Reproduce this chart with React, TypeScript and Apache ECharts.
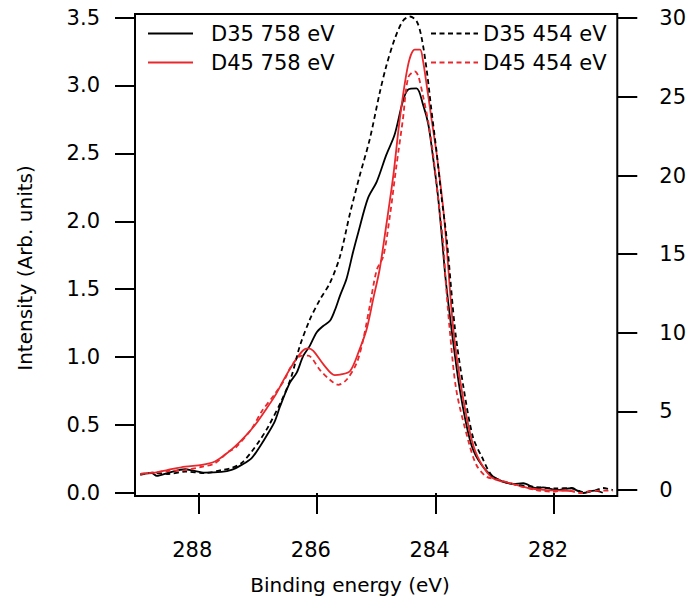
import React, { useEffect, useRef } from "react";
import * as echarts from "echarts";

// Binding energy (eV), intensity pairs
const D35_758: [number, number][] = [
  [288.98, 0.141], [288.785, 0.146], [288.7, 0.126], [288.51, 0.148], [288.22, 0.175],
  [288.09, 0.165], [287.89, 0.15], [287.61, 0.155], [287.44, 0.17], [287.27, 0.207],
  [287.1, 0.257], [286.96, 0.343], [286.82, 0.442], [286.71, 0.528], [286.62, 0.639],
  [286.455, 0.812], [286.34, 0.886], [286.23, 1.009], [286.12, 1.083], [286.005, 1.182],
  [285.89, 1.231], [285.78, 1.268], [285.7, 1.342], [285.61, 1.453], [285.5, 1.577],
  [285.39, 1.774], [285.3, 1.922], [285.14, 2.169], [284.99, 2.292], [284.83, 2.489],
  [284.69, 2.637], [284.55, 2.884], [284.46, 2.97], [284.32, 2.978], [284.21, 2.859],
  [284.12, 2.711], [284.04, 2.465], [283.96, 2.193], [283.89, 1.873], [283.83, 1.577],
  [283.73, 1.207], [283.59, 0.762], [283.42, 0.392], [283.28, 0.244], [283.03, 0.121],
  [282.69, 0.067], [282.52, 0.072], [282.3, 0.035], [282.19, 0.042], [281.96, 0.022],
  [281.71, 0.035], [281.51, 0.0], [281.32, 0.017], [281.18, 0.002],
];

const D45_758: [number, number][] = [
  [288.98, 0.141], [288.73, 0.15], [288.51, 0.17], [288.22, 0.195], [287.94, 0.207],
  [287.72, 0.232], [287.55, 0.281], [287.38, 0.343], [287.21, 0.417], [287.04, 0.503],
  [286.88, 0.602], [286.71, 0.713], [286.54, 0.849], [286.37, 0.972], [286.23, 1.051],
  [286.15, 1.064], [286.06, 1.046], [285.89, 0.947], [285.7, 0.868], [285.61, 0.871],
  [285.44, 0.898], [285.28, 1.058], [285.16, 1.207], [285.05, 1.429], [284.94, 1.651],
  [284.83, 1.971], [284.71, 2.341], [284.6, 2.761], [284.46, 3.155], [284.35, 3.264],
  [284.26, 3.264], [284.21, 3.18], [284.15, 3.007], [284.07, 2.761], [283.98, 2.494],
  [283.87, 2.095], [283.81, 1.8], [283.7, 1.207], [283.56, 0.762], [283.39, 0.392],
  [283.25, 0.232], [283.03, 0.109], [282.69, 0.067], [282.41, 0.035], [282.13, 0.022],
  [281.85, 0.017], [281.65, 0.011],
];

const D35_454: [number, number][] = [
  [288.98, 0.955], [288.785, 1.1], [288.51, 1.02], [288.22, 1.17], [287.89, 1.08],
  [287.61, 1.27], [287.44, 1.4], [287.27, 1.72], [287.1, 2.44], [286.96, 3.18],
  [286.82, 4.03], [286.59, 5.73], [286.43, 7.22], [286.29, 9.13], [286.12, 10.83],
  [285.95, 12.1], [285.78, 13.17], [285.61, 14.86], [285.44, 17.62], [285.28, 19.96],
  [285.11, 22.29], [284.94, 25.27], [284.83, 26.96], [284.69, 28.66], [284.55, 29.83],
  [284.43, 30.11], [284.32, 29.83], [284.24, 28.87], [284.15, 26.75], [284.07, 24.2],
  [283.98, 21.45], [283.9, 18.68], [283.81, 15.92], [283.67, 10.19], [283.53, 6.58],
  [283.37, 3.39], [283.22, 2.12], [283.03, 0.85], [282.69, 0.38], [282.3, 0.19],
  [281.96, 0.1], [281.71, 0.13], [281.51, -0.13], [281.29, 0.0], [281.18, 0.13],
  [281.01, 0.0],
];

const D45_454: [number, number][] = [
  [288.98, 1.02], [288.73, 1.11], [288.51, 1.21], [288.22, 1.27], [287.94, 1.48],
  [287.72, 1.7], [287.49, 2.44], [287.38, 2.66], [287.1, 3.9], [286.93, 5.0],
  [286.71, 6.1], [286.54, 7.05], [286.46, 7.7], [286.29, 8.5], [286.15, 8.55],
  [285.95, 7.64], [285.78, 7.01], [285.64, 6.69], [285.5, 7.01], [285.33, 8.07],
  [285.22, 9.55], [285.11, 11.68], [284.99, 14.01], [284.88, 14.86], [284.77, 17.41],
  [284.66, 20.59], [284.55, 23.57], [284.46, 26.24], [284.35, 26.62], [284.29, 26.32],
  [284.21, 25.05], [284.12, 23.36], [284.04, 21.34], [283.96, 18.68], [283.87, 15.73],
  [283.83, 13.38], [283.76, 10.19], [283.65, 6.37], [283.45, 3.18], [283.31, 1.59],
  [283.14, 0.85], [282.92, 0.64], [282.58, 0.25], [282.3, 0.0], [282.02, -0.11],
  [281.79, 0.0], [281.57, -0.19], [281.34, -0.06], [281.18, -0.04], [281.01, -0.04],
];

const X_TICKS = [282, 284, 286, 288];
const LEFT_TICKS = [0, 0.5, 1, 1.5, 2, 2.5, 3, 3.5];
const RIGHT_TICKS = [0, 5, 10, 15, 20, 25, 30];

const FONT = "DejaVu Sans";
const RED = "#e8282c";

export default function App() {
  const ref = useRef<HTMLDivElement>(null);
  useEffect(() => {
    document.body.style.margin = "0";
    document.body.style.overflow = "hidden";
    const chart = echarts.init(ref.current!, null, { renderer: "svg" });
    const tick = { show: true, length: 20, lineStyle: { color: "#000", width: 2 } };
    const label = { fontSize: 21, color: "#000", fontFamily: FONT };
    const legendCommon = {
      orient: "vertical", top: 23, padding: 0,
      itemHeight: 14, itemGap: 8,
      itemStyle: { opacity: 0 },
    };
    chart.setOption({
      animation: false,
      backgroundColor: "#fff",
      textStyle: { fontFamily: FONT },
      grid: {
        left: 135, right: 71.5, top: 14, bottom: 105,
        show: true, borderColor: "#000", borderWidth: 2,
      },
      legend: [
        {
          ...legendCommon,
          data: ["D35 758 eV", "D45 758 eV"],
          left: 147, itemWidth: 45,
          textStyle: { ...label, padding: [4, 0, 0, 13] },
        },
        {
          ...legendCommon,
          data: ["D35 454 eV", "D45 454 eV"],
          left: 430, itemWidth: 47,
          textStyle: { ...label, padding: [4, 0, 0, 0] },
        },
      ],
      xAxis: {
        type: "value", min: 280.935, max: 289.067, inverse: true,
        axisLine: { show: false },
        axisTick: { ...tick, length: 21, customValues: X_TICKS },
        axisLabel: { ...label, customValues: X_TICKS, margin: 43, padding: [0, 12, 0, 0] },
        splitLine: { show: false },
      },
      yAxis: [
        {
          type: "value", position: "left", min: -0.022, max: 3.526,
          axisLine: { show: false },
          axisTick: { ...tick, customValues: LEFT_TICKS },
          axisLabel: { ...label, customValues: LEFT_TICKS, margin: 35, formatter: (v: number) => v.toFixed(1) },
          splitLine: { show: false },
        },
        {
          type: "value", position: "right", min: -0.38, max: 30.27,
          axisLine: { show: false },
          axisTick: { ...tick, customValues: RIGHT_TICKS },
          axisLabel: { ...label, customValues: RIGHT_TICKS, margin: 42, formatter: (v: number) => String(v) },
          splitLine: { show: false },
        },
      ],
      graphic: [
        {
          type: "text", x: 25, y: 268, rotation: Math.PI / 2,
          style: { text: "Intensity (Arb. units)", fontSize: 20, fontFamily: FONT, fill: "#000", align: "center", verticalAlign: "middle" },
        },
        {
          type: "text", x: 350, y: 585,
          style: { text: "Binding energy (eV)", fontSize: 20, fontFamily: FONT, fill: "#000", align: "center", verticalAlign: "middle" },
        },
      ],
      series: [
        {
          name: "D35 758 eV", type: "line", yAxisIndex: 0, data: D35_758, symbol: "none", smooth: 0.3,
          lineStyle: { color: "#000", width: 1.8 }, itemStyle: { color: "#000" },
        },
        {
          name: "D45 758 eV", type: "line", yAxisIndex: 0, data: D45_758, symbol: "none", smooth: 0.3,
          lineStyle: { color: RED, width: 1.8 }, itemStyle: { color: RED },
        },
        {
          name: "D35 454 eV", type: "line", yAxisIndex: 1, data: D35_454, symbol: "none", smooth: 0.3,
          lineStyle: { color: "#000", width: 1.8, type: [5, 3.5] }, itemStyle: { color: "#000" },
        },
        {
          name: "D45 454 eV", type: "line", yAxisIndex: 1, data: D45_454, symbol: "none", smooth: 0.3,
          lineStyle: { color: RED, width: 1.8, type: [5, 3.5] }, itemStyle: { color: RED },
        },
      ],
    });
    return () => chart.dispose();
  }, []);
  return <div ref={ref} style={{ width: 689, height: 601 }} />;
}
